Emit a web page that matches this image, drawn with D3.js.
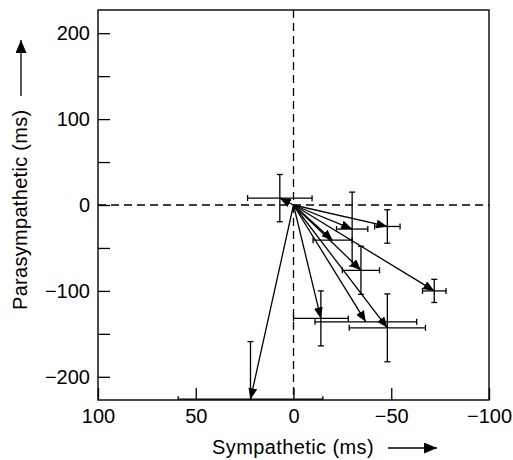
<!DOCTYPE html>
<html>
<head>
<meta charset="utf-8">
<script src="https://cdn.jsdelivr.net/npm/d3@7"></script>
<style>
  body { margin: 0; background: #fff; }
  svg text { font-family: "Liberation Sans", Arial, Helvetica, sans-serif; fill: #000; }
</style>
</head>
<body>
<script>
const width = 513;
const height = 460;

// mean change per condition (ms), sympathetic on x, parasympathetic on y
const sympX  = [7, -48, -30, -20, -34.5, -72, -14, -37, -48, 22];
const paraY  = [8, -25, -28, -41, -76, -100, -132, -136, -143, -226];
// error bar half widths (ms)
const errX   = [16.5, 6.5, 8, 10, 9.5, 6, 14, 26, 19.5, 37];
const errY   = [27.5, 19.5, 43, 0, 28, 13.5, 32, 0, 39.5, 67];

const xTicks = [100, 50, 0, -50, -100];
const yTicks = [200, 150, 100, 50, 0, -50, -100, -150, -200];

const plotL = 98, plotR = 489, plotT = 10, plotB = 400;

const x = d3.scaleLinear().domain([100, -100]).range([plotL, plotR]);
const y = d3.scaleLinear().domain([227, -227]).range([plotT, plotB]);

const svg = d3.select("body").append("svg")
  .attr("width", width)
  .attr("height", height);

const defs = svg.append("defs");
defs.append("clipPath").attr("id", "plotclip")
  .append("rect")
  .attr("x", plotL).attr("y", plotT)
  .attr("width", plotR - plotL).attr("height", plotB - plotT);

function addMarker(id, w, h) {
  defs.append("marker")
    .attr("id", id)
    .attr("viewBox", "0 0 10 10")
    .attr("refX", 10).attr("refY", 5)
    .attr("markerUnits", "userSpaceOnUse")
    .attr("markerWidth", w).attr("markerHeight", h)
    .attr("orient", "auto")
    .attr("preserveAspectRatio", "none")
    .append("path").attr("d", "M0,0L10,5L0,10Z").attr("fill", "#000");
}
addMarker("head", 11, 9);
addMarker("bighead", 13, 11);

const fmt = d => d3.format("d")(d).replace("-", "\u2212");

// axes, ticks pointing inward
const yAxis = svg.append("g")
  .attr("transform", `translate(${plotL},0)`)
  .call(d3.axisLeft(y).tickValues(yTicks).tickSize(-12).tickPadding(8)
    .tickFormat(d => d % 100 === 0 ? fmt(d) : ""));
const xAxis = svg.append("g")
  .attr("transform", `translate(0,${plotB})`)
  .call(d3.axisBottom(x).tickValues(xTicks).tickSize(-12).tickPadding(9)
    .tickFormat(fmt));

[xAxis, yAxis].forEach(g => {
  g.select(".domain").remove();
  g.selectAll("line").attr("stroke", "#000").attr("stroke-width", 1.3);
  g.selectAll("text").style("font-size", "20px");
});

// frame
svg.append("rect")
  .attr("x", plotL).attr("y", plotT)
  .attr("width", plotR - plotL).attr("height", plotB - plotT)
  .attr("fill", "none").attr("stroke", "#000").attr("stroke-width", 1.4);

const plot = svg.append("g").attr("clip-path", "url(#plotclip)");

// dashed zero lines
plot.append("line")
  .attr("x1", x(0)).attr("x2", x(0)).attr("y1", plotT).attr("y2", plotB)
  .attr("stroke", "#000").attr("stroke-width", 1.3).attr("stroke-dasharray", "8,5");
plot.append("line")
  .attr("x1", plotL).attr("x2", plotR).attr("y1", y(0)).attr("y2", y(0))
  .attr("stroke", "#000").attr("stroke-width", 1.3).attr("stroke-dasharray", "8,5");

const pts = sympX.map((v, i) => ({ sx: v, py: paraY[i], ex: errX[i], ey: errY[i] }));
const cap = 3;

const bars = plot.append("g")
  .attr("stroke", "#000").attr("stroke-width", 1.3).attr("fill", "none");

pts.forEach(d => {
  const cx = x(d.sx), cy = y(d.py);
  if (d.ex > 0) {
    const x1 = x(d.sx + d.ex), x2 = x(d.sx - d.ex);
    bars.append("line").attr("x1", x1).attr("x2", x2).attr("y1", cy).attr("y2", cy);
    bars.append("line").attr("x1", x1).attr("x2", x1).attr("y1", cy - cap).attr("y2", cy + cap);
    bars.append("line").attr("x1", x2).attr("x2", x2).attr("y1", cy - cap).attr("y2", cy + cap);
  }
  if (d.ey > 0) {
    const y1 = y(d.py + d.ey), y2 = y(d.py - d.ey);
    bars.append("line").attr("x1", cx).attr("x2", cx).attr("y1", y1).attr("y2", y2);
    bars.append("line").attr("x1", cx - cap).attr("x2", cx + cap).attr("y1", y1).attr("y2", y1);
    bars.append("line").attr("x1", cx - cap).attr("x2", cx + cap).attr("y1", y2).attr("y2", y2);
  }
});

// arrows from origin
plot.append("g").selectAll("line.arrow")
  .data(pts)
  .join("line")
  .attr("class", "arrow")
  .attr("x1", x(0)).attr("y1", y(0))
  .attr("x2", d => x(d.sx)).attr("y2", d => y(d.py))
  .attr("stroke", "#000").attr("stroke-width", 1.3)
  .attr("marker-end", "url(#head)");

// axis titles with direction arrows
svg.append("text")
  .attr("x", 212).attr("y", 454)
  .style("font-size", "20px").style("letter-spacing", "0.4px")
  .text("Sympathetic (ms)");
svg.append("line")
  .attr("x1", 388).attr("x2", 437).attr("y1", 448).attr("y2", 448)
  .attr("stroke", "#000").attr("stroke-width", 1.3)
  .attr("marker-end", "url(#bighead)");

svg.append("text")
  .attr("transform", "translate(27,310) rotate(-90)")
  .style("font-size", "20px").style("letter-spacing", "0.3px")
  .text("Parasympathetic (ms)");
svg.append("line")
  .attr("x1", 21).attr("x2", 21).attr("y1", 96).attr("y2", 40)
  .attr("stroke", "#000").attr("stroke-width", 1.3)
  .attr("marker-end", "url(#bighead)");
</script>
</body>
</html>
